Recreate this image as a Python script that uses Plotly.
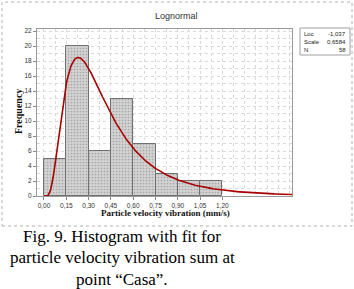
import numpy as np
import plotly.graph_objects as go

# ---- data ----
bin_starts = [0.00, 0.15, 0.30, 0.45, 0.60, 0.75, 0.90, 1.05]
bin_width = 0.15
counts = [5, 20, 6, 13, 7, 3, 2, 2]
fit_loc = -1.037
fit_scale = 0.6584
n_obs = 58
x_tick_vals = [0.00, 0.15, 0.30, 0.45, 0.60, 0.75, 0.90, 1.05, 1.20]
x_tick_text = ["0,00", "0,15", "0,30", "0,45", "0,60", "0,75", "0,90", "1,05", "1,20"]
y_tick_vals = [0, 2, 4, 6, 8, 10, 12, 14, 16, 18, 20, 22]
title_text = "Lognormal"
x_title = "Particle velocity vibration (mm/s)"
y_title = "Frequency"
legend_rows = [("Loc", "-1,037"), ("Scale", "0,6584"), ("N", "58")]
caption_lines = ["Fig. 9. Histogram with fit for",
                 "particle velocity vibration sum at",
                 "point \u201cCasa\u201d."]

# ---- derived ----
centers = np.array(bin_starts) + bin_width / 2
x_min, x_max = -0.047, 1.668
xs = np.linspace(0.0005, x_max, 400)
pdf = np.exp(-(np.log(xs) - fit_loc) ** 2 / (2 * fit_scale ** 2)) / (xs * fit_scale * np.sqrt(2 * np.pi))
ys = pdf * n_obs * bin_width

# plot area in pixels
W, H = 354, 289
L, R, T, B = 37, 292, 29, 196
def px(xp):
    return (xp - L) / (R - L)
def py(yp):
    return (B - yp) / (B - T)

fig = go.Figure()
fig.add_trace(go.Bar(x=centers, y=counts, width=bin_width,
                     marker=dict(color="#d2d2d2", line=dict(color="#707070", width=1),
                                 pattern=dict(shape=".", size=3, solidity=0.25,
                                              fgcolor="#a9a9a9", bgcolor="#d2d2d2", fillmode="replace")),
                     hoverinfo="skip"))
fig.add_trace(go.Scatter(x=xs, y=ys, mode="lines",
                         line=dict(color="#a80000", width=1.6), hoverinfo="skip"))

minor_x = [round(0.075 * k, 4) for k in range(0, 23) if k % 2 == 1 or k > 16]
grid_col = "#dadada"

fig.update_layout(
    width=W, height=H,
    margin=dict(l=L, r=W - R, t=T, b=H - B),
    paper_bgcolor="white", plot_bgcolor="white",
    showlegend=False, bargap=0,
    xaxis=dict(range=[x_min, x_max], tickmode="array", tickvals=x_tick_vals, ticktext=x_tick_text,
               ticks="outside", ticklen=3, tickcolor="#888888",
               tickfont=dict(family="Liberation Sans", size=6.5, color="#333333"),
               showgrid=True, gridcolor=grid_col, griddash="dot", gridwidth=1,
               minor=dict(tickvals=minor_x, showgrid=True, gridcolor=grid_col, griddash="dot", ticklen=0),
               showline=True, linecolor="#9a9a9a", mirror=True, zeroline=False),
    yaxis=dict(range=[0, 22.27], tickmode="array", tickvals=y_tick_vals,
               ticks="outside", ticklen=3, tickcolor="#888888",
               tickfont=dict(family="Liberation Sans", size=6.5, color="#333333"),
               showgrid=True, gridcolor=grid_col, griddash="dot", gridwidth=1,
               minor=dict(dtick=1, showgrid=True, gridcolor=grid_col, griddash="dot", ticklen=0),
               showline=True, linecolor="#9a9a9a", mirror=True, zeroline=False),
)

# outer dotted frame
fig.add_shape(type="rect", xref="paper", yref="paper",
              x0=px(2), x1=px(352), y0=py(226), y1=py(2),
              line=dict(color="#b0b0b0", width=1, dash="dot"), layer="below")
# stats box
fig.add_shape(type="rect", xref="paper", yref="paper",
              x0=px(300), x1=px(350), y0=py(55), y1=py(28),
              line=dict(color="#a0a0a0", width=1), fillcolor="white")
row_y = [33.5, 41.5, 50]
for (lab, val), yy in zip(legend_rows, row_y):
    fig.add_annotation(xref="paper", yref="paper", x=px(302), y=py(yy), text=lab,
                       showarrow=False, xanchor="left", yanchor="middle",
                       font=dict(family="Liberation Sans", size=6, color="#222222"))
    fig.add_annotation(xref="paper", yref="paper", x=px(348), y=py(yy), text=val,
                       showarrow=False, xanchor="right", yanchor="middle",
                       font=dict(family="Liberation Sans", size=6, color="#222222"))

# title
fig.add_annotation(xref="paper", yref="paper", x=px(176), y=py(16), text=title_text,
                   showarrow=False, xanchor="center", yanchor="middle",
                   font=dict(family="Liberation Sans", size=9, color="#333333"))
# axis titles
fig.add_annotation(xref="paper", yref="paper", x=px(18), y=py(112), text="<b>" + y_title + "</b>",
                   showarrow=False, textangle=-90, xanchor="center", yanchor="middle",
                   font=dict(family="Liberation Serif", size=10, color="#111111"))
fig.add_annotation(xref="paper", yref="paper", x=px(165), y=py(213), text="<b>" + x_title + "</b>",
                   showarrow=False, xanchor="center", yanchor="middle",
                   font=dict(family="Liberation Serif", size=9, color="#111111"))
# caption
for line, yy in zip(caption_lines, [236, 257.5, 279]):
    fig.add_annotation(xref="paper", yref="paper", x=px(122), y=py(yy), text=line,
                       showarrow=False, xanchor="center", yanchor="middle",
                       font=dict(family="Liberation Serif", size=17, color="#000000"))

fig.write_html("out.html", config={"displayModeBar": False},
               post_script="document.body.style.margin='0';document.body.style.overflow='hidden';")
